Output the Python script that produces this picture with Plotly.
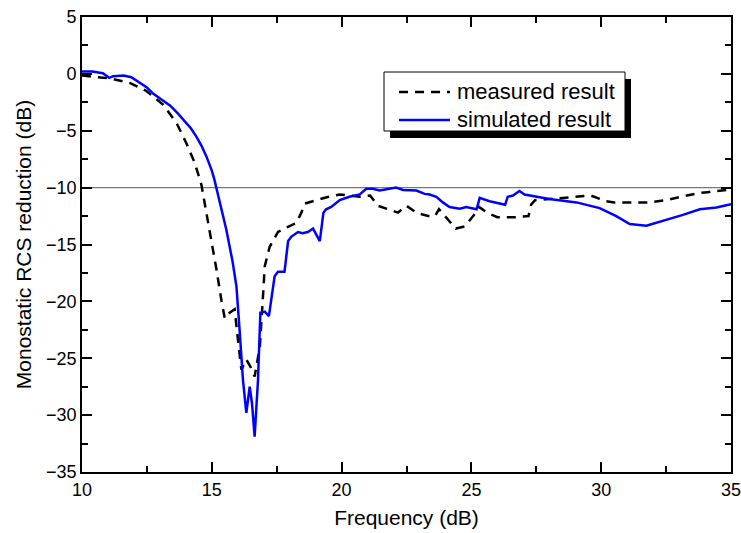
import plotly.graph_objects as go

# ---- data ----
sim_freq = [10.0, 10.4, 10.8, 11.05, 11.2, 11.6, 11.9, 12.15, 12.5, 12.75, 13.1, 13.4, 13.7, 13.9,
            14.2, 14.4, 14.6, 14.8, 15.0, 15.1, 15.3, 15.56, 15.8, 15.95, 16.07, 16.2, 16.33, 16.46,
            16.55, 16.65, 16.78, 16.87, 17.04, 17.2, 17.42, 17.55, 17.8, 17.94, 18.07, 18.32, 18.5,
            18.7, 18.9, 19.05, 19.16, 19.3, 19.4, 19.6, 19.93, 20.3, 20.7, 20.95, 21.2, 21.47, 21.8,
            22.1, 22.37, 22.88, 23.2, 23.39, 23.65, 23.9, 24.16, 24.55, 24.8, 25.2, 25.32, 25.7,
            26.3, 26.4, 26.6, 26.85, 27.05, 27.5, 28.0, 29.05, 29.94, 30.58, 31.1, 31.74, 32.13,
            33.15, 33.8, 34.44, 35.0]
sim_rcs = [0.2, 0.2, 0.05, -0.35, -0.2, -0.15, -0.3, -0.65, -1.2, -1.75, -2.3, -2.8, -3.5, -4.0,
           -4.8, -5.5, -6.3, -7.3, -8.5, -9.3, -11.1, -13.7, -16.5, -18.7, -22.5, -26.9, -29.8, -27.5,
           -29.0, -31.9, -26.9, -21.0, -20.9, -21.3, -17.8, -17.4, -17.4, -14.7, -14.3, -13.9, -14.0,
           -13.9, -13.6, -14.2, -14.7, -12.2, -11.9, -11.7, -11.1, -10.8, -10.6, -10.1, -10.1, -10.25, -10.1,
           -10.0, -10.2, -10.25, -10.55, -10.6, -10.8, -11.3, -11.7, -11.85, -11.7, -11.9, -10.9, -11.2,
           -11.5, -10.8, -10.7, -10.3, -10.6, -10.8, -11.0, -11.3, -11.8, -12.5, -13.2, -13.35, -13.1,
           -12.4, -11.9, -11.75, -11.45]

meas_freq = [10.0, 10.5, 11.07, 11.84, 12.48, 13.12, 13.64, 14.02, 14.34, 14.6, 14.92, 15.18, 15.37,
             15.5, 15.69, 15.88, 16.01, 16.14, 16.33, 16.5, 16.65, 16.85, 16.97, 17.04, 17.23, 17.55,
             17.8, 18.0, 18.26, 18.45, 18.58, 19.03, 19.5, 19.93, 20.7, 21.1, 21.4, 21.79, 22.17, 22.5,
             22.88, 23.33, 23.6, 23.75, 24.04, 24.4, 24.75, 25.1, 25.3, 25.6, 26.0, 26.7, 27.2, 27.3,
             27.45, 28.0, 28.8, 29.6, 30.2, 30.5, 31.2, 31.9, 32.5, 32.9, 33.3, 33.7, 34.1, 34.5, 35.0]
meas_rcs = [-0.15, -0.25, -0.4, -0.8, -1.5, -2.7, -4.3, -6.1, -7.8, -9.75, -13.7, -17.2, -19.9,
            -21.5, -21.0, -20.7, -23.4, -26.0, -25.1, -25.8, -26.6, -24.0, -19.6, -16.9, -15.2, -13.9,
            -13.6, -13.4, -13.1, -12.2, -11.4, -11.1, -10.8, -10.6, -10.8, -10.7, -11.6, -11.9, -12.2, -11.6,
            -12.2, -12.5, -12.5, -11.9, -12.7, -13.6, -13.4, -12.4, -11.7, -12.2, -12.6, -12.6, -12.5, -11.5,
            -11.1, -11.0, -10.8, -10.7, -11.2, -11.3, -11.3, -11.3, -11.1, -10.9, -10.7, -10.5, -10.4, -10.3, -10.15]

series_names = ["measured result", "simulated result"]
ref_level = -10
x_range = [10, 35]
y_range = [-35, 5]
x_ticks = [10, 15, 20, 25, 30, 35]
y_ticks = [5, 0, -5, -10, -15, -20, -25, -30, -35]

FONT = "Liberation Sans, Arial, Helvetica, sans-serif"
W, H = 741, 533
ML, MR, MT, MB = 82, 10, 17, 61
DASH = "9px,7px"

fig = go.Figure()
fig.add_trace(go.Scatter(x=meas_freq, y=meas_rcs, mode="lines", name=series_names[0],
                         line=dict(color="black", width=2.5, dash=DASH)))
fig.add_trace(go.Scatter(x=sim_freq, y=sim_rcs, mode="lines", name=series_names[1],
                         line=dict(color="#0000ff", width=2.5)))

fig.add_shape(type="line", xref="paper", yref="y", x0=0, x1=1, y0=ref_level, y1=ref_level,
              line=dict(color="#777777", width=1.3), layer="below")

# ---- legend drawn as a boxed key with drop shadow (pixel geometry) ----
pw, ph = W - ML - MR, H - MT - MB
def px2x(p):
    return (p - ML) / pw
def py2y(p):
    return (H - MB - p) / ph

lg_left, lg_top, lg_right, lg_bot = 384, 72, 625, 131
sh_dx, sh_dy = 6, 7
fig.add_shape(type="rect", xref="paper", yref="paper",
              x0=px2x(lg_left + sh_dx), x1=px2x(lg_right + sh_dx),
              y0=py2y(lg_bot + sh_dy), y1=py2y(lg_top + sh_dy),
              fillcolor="black", line=dict(width=0), layer="above")
fig.add_shape(type="rect", xref="paper", yref="paper",
              x0=px2x(lg_left), x1=px2x(lg_right), y0=py2y(lg_bot), y1=py2y(lg_top),
              fillcolor="white", line=dict(color="black", width=1), layer="above")
rows_y = [92, 120]
styles = [dict(color="black", width=2.5, dash=DASH), dict(color="#0000ff", width=2.5)]
for name, ry, st in zip(series_names, rows_y, styles):
    fig.add_shape(type="line", xref="paper", yref="paper",
                  x0=px2x(399), x1=px2x(450), y0=py2y(ry), y1=py2y(ry),
                  line=st, layer="above")
    fig.add_annotation(xref="paper", yref="paper", x=px2x(455), y=py2y(ry),
                       xanchor="left", yanchor="middle", text=name, showarrow=False,
                       font=dict(family=FONT, size=22, color="black"))

axis_common = dict(showline=True, linecolor="black", linewidth=1.8, mirror="allticks",
                   ticks="inside", ticklen=10, tickwidth=1.8, tickcolor="black",
                   showgrid=False, zeroline=False, automargin=False,
                   ticklabeloverflow="allow",
                   tickfont=dict(family=FONT, size=18, color="black"))

fig.update_xaxes(range=x_range, tickvals=x_ticks,
                 title=dict(text="Frequency (dB)", font=dict(family=FONT, size=21, color="black"), standoff=12),
                 minor=dict(dtick=2.5, tick0=10, ticks="inside", ticklen=6, tickwidth=1.5, tickcolor="black"),
                 **axis_common)
fig.update_yaxes(range=y_range, tickvals=y_ticks,
                 title=dict(text="Monostatic RCS reduction (dB)", font=dict(family=FONT, size=21, color="black"), standoff=9),
                 minor=dict(dtick=2.5, tick0=0, ticks="inside", ticklen=6, tickwidth=1.5, tickcolor="black"),
                 **axis_common)

fig.update_layout(
    width=W, height=H,
    margin=dict(l=ML, r=MR, t=MT, b=MB, pad=0),
    paper_bgcolor="white", plot_bgcolor="white",
    font=dict(family=FONT, size=18, color="black"),
    showlegend=False,
)

fig.write_html("out.html")
